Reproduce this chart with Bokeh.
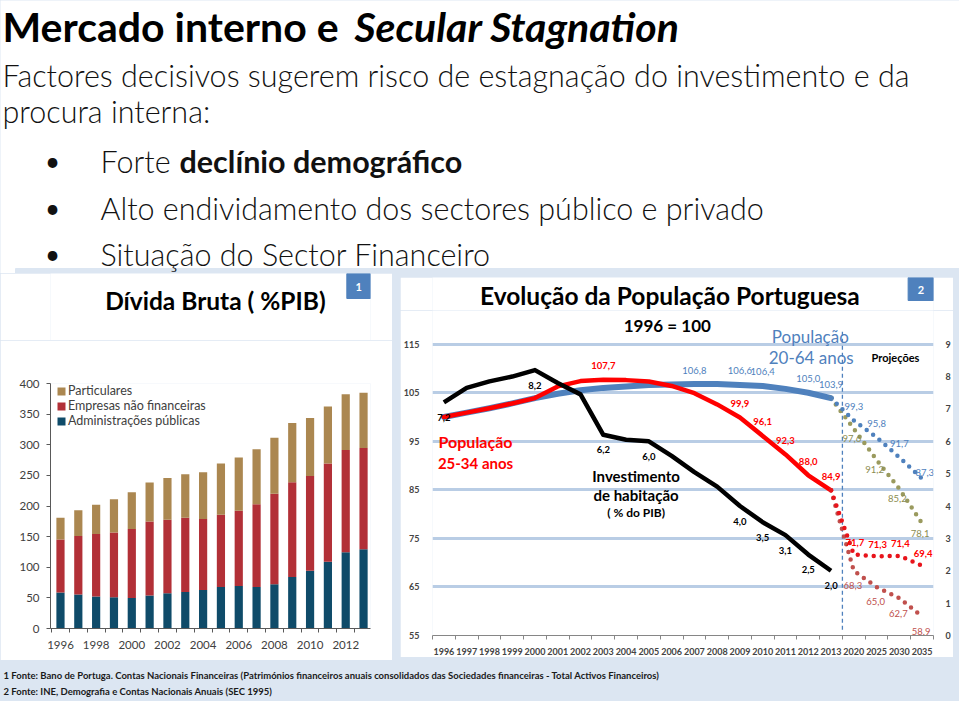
from bokeh.plotting import figure
from bokeh.models import Range1d, LinearAxis, FixedTicker, ColumnDataSource, Legend, LegendItem, Spacer
from bokeh.layouts import column, row
from bokeh.core.properties import value
from bokeh.embed import file_html
from bokeh.resources import INLINE

# ---------------- data ----------------
debt_years = list(range(1996, 2014))
debt_admin = [58.6, 55.4, 52.1, 51.0, 49.9, 53.7, 57.5, 59.7, 63.0, 67.8, 69.5, 67.8, 72.2, 84.1, 94.4, 109.1, 124.3, 129.2]
debt_firms = [86.9, 95.5, 102.0, 105.9, 112.4, 121.1, 120.0, 121.0, 115.6, 117.8, 122.6, 135.2, 147.6, 154.7, 154.7, 160.1, 167.2, 165.5]
debt_households = [35.2, 42.3, 47.8, 54.2, 60.2, 63.5, 68.4, 71.1, 76.5, 83.6, 86.9, 89.5, 91.7, 96.6, 94.5, 93.4, 91.1, 90.1]
debt_labels = ["Administrações públicas", "Empresas não financeiras", "Particulares"]
debt_yticks = [0, 50, 100, 150, 200, 250, 300, 350, 400]

pop_categories = [str(y) for y in range(1996, 2014)] + ["2020", "2025", "2030", "2035"]
hist_categories = pop_categories[:18]
proj_categories = ["2013", "2020", "2025", "2030", "2035"]

pop_20_64 = [100.0, 100.9, 101.8, 102.8, 103.9, 104.8, 105.5, 106.0, 106.3, 106.6, 106.7, 106.8, 106.8, 106.6, 106.4, 105.8, 105.0, 103.9]
pop_25_34 = [100.0, 100.9, 101.8, 102.8, 103.9, 106.3, 107.4, 107.7, 107.6, 107.3, 106.4, 104.9, 102.6, 99.9, 96.1, 92.3, 88.0, 84.9]
housing_inv = [7.2, 7.65, 7.85, 8.0, 8.2, 7.8, 7.45, 6.2, 6.05, 6.0, 5.55, 5.05, 4.6, 4.0, 3.5, 3.1, 2.5, 2.0]

proj_20_64_a = [103.9, 99.3, 95.8, 91.7, 87.3]
proj_20_64_b = [103.9, 97.6, 91.2, 85.2, 78.1]
proj_25_34_a = [84.9, 71.7, 71.3, 71.4, 69.4]
proj_25_34_b = [84.9, 68.3, 65.0, 62.7, 58.9]

lab_20_64_years = ["2007", "2009", "2010", "2012", "2013"]
lab_25_34_years = ["2003", "2009", "2010", "2011", "2012", "2013"]
lab_inv_years = ["1996", "2000", "2003", "2005", "2009", "2010", "2011", "2012", "2013"]

left_ticks = [55, 65, 75, 85, 95, 105, 115]
right_ticks = [0, 1, 2, 3, 4, 5, 6, 7, 8, 9]

# ---------------- styles ----------------
BLUE_BG = "#dce6f2"
FONT_NAME = "Lato"
FONT = value(FONT_NAME)
C_BLUE = "#4f81bd"
C_RED = "#ff0000"
C_OLIVE = "#9a9a5e"
C_DUSTY = "#c0504d"


def fmt(v):
    return ("%.1f" % v).replace(".", ",")


def blank_fig(w, h, bg="white"):
    f = figure(width=w, height=h, x_range=Range1d(0, w), y_range=Range1d(h, 0),
               x_axis_location=None, y_axis_location=None, min_border=0,
               output_backend="svg", toolbar_location=None, outline_line_color=None,
               background_fill_color=bg, border_fill_color=bg)
    f.grid.visible = False
    return f


def put(f, x, y, t, size, style="normal", color="#000000", align="left", font=FONT):
    f.text(x=[x], y=[y], text=[t], text_font=font, text_font_size=size, text_font_style=style,
           text_color=color, text_align=align, text_baseline="middle")


# ---------------- header ----------------
hd = blank_fig(959, 273)
hd.quad(left=[15], right=[959], top=[268], bottom=[273], color=BLUE_BG)
put(hd, 2, 26, "Mercado interno e", "41px", "bold")
put(hd, 354, 26, "Secular Stagnation", "41px", "bold italic")
sub_font = value("Lato Light")
SUB = "30.5px"
put(hd, 2, 74, "Factores decisivos sugerem risco de estagnação do investimento e da", SUB, color="#111111", font=sub_font)
put(hd, 2, 110, "procura interna:", SUB, color="#111111", font=sub_font)
for yy in (160, 207, 253):
    put(hd, 52, yy, "•", "26px", align="center", color="#111111")
put(hd, 100, 160, "Forte", SUB, color="#111111", font=sub_font)
put(hd, 179, 160, "declínio demográfico", SUB, "bold", color="#111111")
put(hd, 100, 207, "Alto endividamento dos sectores público e privado", SUB, color="#111111", font=sub_font)
put(hd, 100, 253, "Situação do Sector Financeiro", SUB, color="#111111", font=sub_font)

# ---------------- left panel ----------------
lt = blank_fig(392, 67)
put(lt, 202, 27, "Dívida Bruta ( %PIB)", "24.5px", "bold", align="center")
lt.quad(left=[363], right=[392], top=[0], bottom=[25], color=C_BLUE)
put(lt, 377.5, 13, "1", "11px", "bold", color="white", align="center")

src = ColumnDataSource(dict(year=debt_years, adm=debt_admin, emp=debt_firms, part=debt_households))
pl = figure(width=392, height=320, x_range=Range1d(1995.44, 2013.39), y_range=Range1d(0, 400),
            min_border_left=50, min_border_right=22, min_border_top=43, min_border_bottom=32,
            output_backend="svg", toolbar_location=None, outline_line_color=None,
            background_fill_color="white", border_fill_color="white")
rs = pl.vbar_stack(["adm", "emp", "part"], x="year", width=0.46, source=src,
                   color=["#0f4b69", "#b23037", "#ab8750"], line_color=None)
leg = Legend(items=[LegendItem(label=debt_labels[2], renderers=[rs[2]]),
                    LegendItem(label=debt_labels[1], renderers=[rs[1]]),
                    LegendItem(label=debt_labels[0], renderers=[rs[0]])],
             location=(6, 200), border_line_color=None, background_fill_alpha=0,
             glyph_width=10, glyph_height=10, label_height=15, label_standoff=2, spacing=0,
             padding=0, margin=0, label_text_font=FONT_NAME, label_text_font_size="12.5px",
             label_text_color="#404040")
pl.add_layout(leg)
pl.grid.visible = False
pl.yaxis.ticker = FixedTicker(ticks=debt_yticks)
pl.xaxis.ticker = FixedTicker(ticks=debt_years[::2], minor_ticks=[y - 0.5 for y in debt_years] + [debt_years[-1] + 0.5])
for ax in (pl.xaxis[0], pl.yaxis[0]):
    ax.axis_line_color = "#595959"
    ax.major_tick_line_color = "#595959"
    ax.minor_tick_line_color = "#595959"
    ax.major_label_text_font = FONT_NAME
    ax.major_label_text_font_size = "11.5px"
    ax.major_label_text_color = "#404040"
    ax.major_tick_in = 0
    ax.minor_tick_in = 0
pl.yaxis.major_tick_out = 4
pl.yaxis.minor_tick_out = 0
pl.yaxis.major_label_standoff = 7
pl.xaxis.major_tick_out = 0
pl.xaxis.minor_tick_out = 4
pl.xaxis.major_label_standoff = 8

left_col = column(lt, pl, spacing=0)

# ---------------- right panel ----------------
rt = blank_fig(553, 33)
put(rt, 262, 18, "Evolução da População Portuguesa", "24.5px", "bold", align="center")
rt.quad(left=[525], right=[553], top=[0], bottom=[23], color=C_BLUE)
put(rt, 539, 12, "2", "11px", "bold", color="white", align="center")

idx = {c: i for i, c in enumerate(pop_categories)}
y_top = 121.94
pr = figure(width=553, height=347, x_range=Range1d(-0.5, len(pop_categories) - 0.5),
            y_range=Range1d(55, y_top),
            min_border_left=25, min_border_right=16, min_border_top=0, min_border_bottom=19,
            output_backend="svg", toolbar_location=None, outline_line_color=None,
            background_fill_color="white", border_fill_color="white")
pr.extra_y_ranges = {"inv": Range1d(0, right_ticks[-1] * (y_top - 55) / (left_ticks[-1] - 55))}
pr.add_layout(LinearAxis(y_range_name="inv", ticker=FixedTicker(ticks=right_ticks)), "right")

pr.xgrid.visible = False
pr.ygrid.ticker = FixedTicker(ticks=left_ticks[1:])
pr.ygrid.grid_line_color = "#b9cde5"
pr.ygrid.grid_line_width = 3

pr.yaxis[0].ticker = FixedTicker(ticks=left_ticks)
for ax in pr.yaxis:
    ax.axis_line_color = None
    ax.major_tick_line_color = None
    ax.minor_tick_line_color = None
    ax.major_label_text_font = FONT_NAME
    ax.major_label_text_font_size = "9px"
    ax.major_label_text_font_style = "bold"
    ax.major_label_standoff = 7
pr.yaxis[1].major_label_standoff = 6

xa = pr.xaxis[0]
xa.ticker = FixedTicker(ticks=list(range(len(pop_categories))),
                        minor_ticks=[i - 0.5 for i in range(len(pop_categories) + 1)])
xa.major_label_overrides = {i: c for i, c in enumerate(pop_categories)}
xa.axis_line_color = "#868686"
xa.major_tick_line_color = None
xa.minor_tick_line_color = "#868686"
xa.minor_tick_out = 4
xa.minor_tick_in = 0
xa.major_label_text_font = FONT_NAME
xa.major_label_text_font_size = "9px"
xa.major_label_text_font_style = "bold"
xa.major_label_standoff = 6

hx = [idx[c] for c in hist_categories]
px_ = [idx[c] for c in proj_categories]

# vertical separator between history and projections
sep = idx["2020"] - 0.5
pr.segment(x0=[sep], y0=[56.2], x1=[sep], y1=[118.2], line_color=C_BLUE, line_dash="4 3", line_width=1.3)

# solid lines
pr.line(hx, pop_20_64, line_color=C_BLUE, line_width=6, line_join="round", line_cap="round")
pr.line(hx, pop_25_34, line_color=C_RED, line_width=4.5, line_join="round", line_cap="round")
pr.line(hx, housing_inv, y_range_name="inv", line_color="#000000", line_width=4.5, line_join="round")

# dotted projections
for vals, col in ((proj_20_64_b, C_OLIVE), (proj_20_64_a, C_BLUE), (proj_25_34_b, C_DUSTY), (proj_25_34_a, "#e8141b")):
    pr.line(px_, vals, line_color=col, line_width=4.5, line_dash="0 8", line_cap="round")


def labels(cats, series_cats, series_vals, color, style, dy, size="9.5px", rng="default", align="center", dx=0):
    vals = [series_vals[series_cats.index(c)] for c in cats]
    s = ColumnDataSource(dict(x=[idx[c] for c in cats], y=vals, t=[fmt(v) for v in vals]))
    pr.text(x="x", y="y", text="t", source=s, y_range_name=rng, text_font=FONT, text_font_size=size,
            text_font_style=style, text_color=color, text_align=align, text_baseline="middle",
            x_offset=dx, y_offset=dy)


labels(lab_20_64_years, hist_categories, pop_20_64, C_BLUE, "normal", -14)
labels(lab_25_34_years, hist_categories, pop_25_34, C_RED, "bold", -14)
labels(lab_inv_years, hist_categories, housing_inv, "#000000", "bold", 15, rng="inv")
labels(proj_categories[1:4], proj_categories, proj_20_64_a, C_BLUE, "normal", -14)
labels(proj_categories[4:], proj_categories, proj_20_64_a, C_BLUE, "normal", -6, align="right", dx=12)
labels(proj_categories[1:], proj_categories, proj_20_64_b, "#8c8c50", "normal", 10, dx=-2)
labels(proj_categories[1:], proj_categories, proj_25_34_a, C_RED, "bold", -12, dx=1)
labels(proj_categories[1:], proj_categories, proj_25_34_b, C_DUSTY, "normal", 15, dx=-1)


def note(x, y, t, size, style, color):
    pr.text(x=[x], y=[y], text=[t], text_font=FONT, text_font_size=size, text_font_style=style,
            text_color=color, text_align="center", text_baseline="middle")


note(1.39, 95.0, "População", "16px", "bold", C_RED)
note(1.39, 90.5, "25-34 anos", "15px", "bold", C_RED)
note(8.44, 87.86, "Investimento", "15px", "bold", "#000000")
note(8.44, 83.98, "de habitação", "15px", "bold", "#000000")
note(8.44, 80.3, "( % do PIB)", "12px", "bold", "#000000")
note(16.09, 116.6, "População", "17px", "normal", C_BLUE)
note(16.13, 112.35, "20-64 anos", "17px", "normal", C_BLUE)
note(19.83, 112.35, "Projeções", "11px", "bold", "#000000")
note(9.81, 118.9, "1996 = 100", "17px", "bold", "#000000")


def bspacer(w, h):
    return Spacer(width=w, height=h, styles={"background-color": BLUE_BG})


right_col = column(bspacer(553, 4), rt, pr, bspacer(553, 3), spacing=0)
middle = row(left_col, bspacer(8, 387), right_col, bspacer(6, 387), spacing=0)

# ---------------- footer ----------------
ft = blank_fig(959, 41, bg=BLUE_BG)
put(ft, 3, 15, "1 Fonte: Bano de Portuga. Contas Nacionais Financeiras (Patrimónios financeiros anuais consolidados das Sociedades financeiras - Total Activos Financeiros)", "9.5px", "bold", color="#1a1a1a")
put(ft, 3, 31, "2 Fonte: INE, Demografia e Contas Nacionais Anuais (SEC 1995)", "9.5px", "bold", color="#1a1a1a")

root = column(hd, middle, ft, spacing=0, styles={"background-color": BLUE_BG})

open("out.html", "w").write(file_html(root, INLINE))
